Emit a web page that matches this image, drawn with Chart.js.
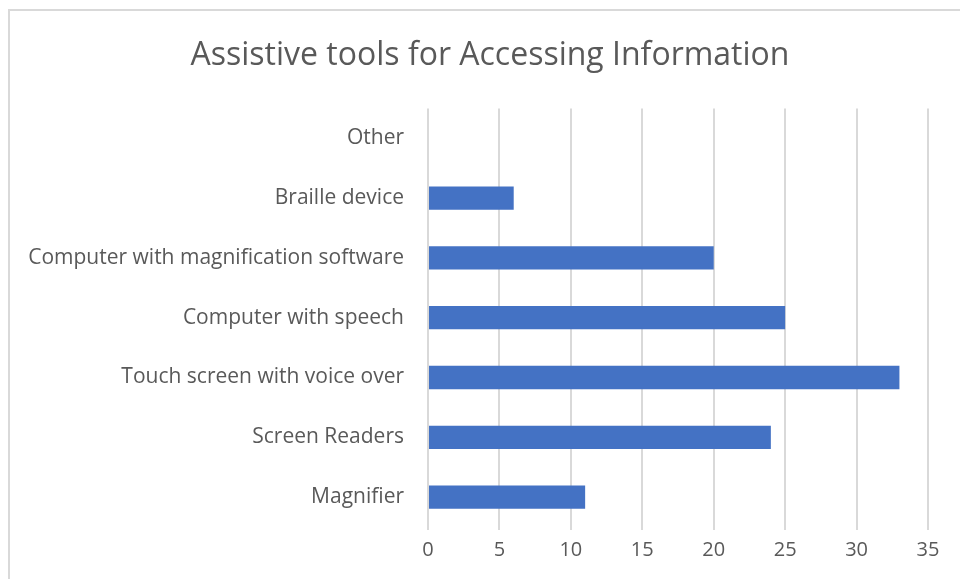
<!DOCTYPE html>
<html lang="en">
<head>
<meta charset="UTF-8" />
<title>Assistive tools for Accessing Information</title>
<script src="https://cdn.jsdelivr.net/npm/chart.js"></script>
<style>
body {
    margin: 0;
    background: #fff;
    overflow: hidden;
}
.frame {
    position: absolute;
    left: 8px;
    top: 9px;
    width: 1000px;
    height: 700px;
    border: 2px solid #d9d9d9;
}
.chart-box {
    position: absolute;
    left: 0;
    top: 0;
    width: 960px;
    height: 579px;
}
</style>
</head>
<body>
<div class="frame"></div>
<div class="chart-box">
    <canvas id="toolsChart"></canvas>
</div>

<script>
// data
const tools = ['Other', 'Braille device', 'Computer with magnification software',
    'Computer with speech', 'Touch screen with voice over', 'Screen Readers', 'Magnifier'];
const counts = [0, 6, 20, 25, 33, 24, 11];
const xTicks = [0, 5, 10, 15, 20, 25, 30, 35];

const textGrey = '#595959';
const fontName = '"Open Sans", sans-serif';

// the title in the original sits a bit right of the canvas centre
const nudgeTitle = {
    id: 'nudgeTitle',
    afterLayout(chart) {
        const t = chart.titleBlock;
        if (t) { t.left += 26; t.right += 26; }
    }
};

new Chart(document.getElementById('toolsChart'), {
    type: 'bar',
    data: {
        labels: tools,
        datasets: [{
            data: counts,
            backgroundColor: '#4472C4',
            barPercentage: 0.39,
            categoryPercentage: 1
        }]
    },
    options: {
        indexAxis: 'y',
        responsive: true,
        maintainAspectRatio: false,
        animation: false,
        layout: { padding: { left: 0, right: 32, top: 0, bottom: 0 } },
        plugins: {
            legend: { display: false },
            tooltip: { enabled: false },
            title: {
                display: true,
                text: 'Assistive tools for Accessing Information',
                color: textGrey,
                font: { family: fontName, size: 32, weight: 'normal' },
                padding: { top: 37, bottom: 33 }
            }
        },
        scales: {
            x: {
                min: xTicks[0],
                max: xTicks[xTicks.length - 1],
                afterBuildTicks: (scale) => { scale.ticks = xTicks.map(v => ({ value: v })); },
                afterFit: (scale) => { scale.height = 52; },
                border: { display: false },
                grid: { color: '#d9d9d9', lineWidth: 2, drawTicks: true, tickLength: 3, tickColor: '#d9d9d9' },
                ticks: {
                    color: textGrey,
                    padding: 8,
                    font: { family: fontName, size: 20 }
                }
            },
            y: {
                afterFit: (scale) => { scale.width = 428; },
                border: { display: false },
                grid: { display: false },
                ticks: {
                    color: textGrey,
                    padding: 16,
                    font: { family: fontName, size: 21 }
                }
            }
        }
    },
    plugins: [nudgeTitle]
});
</script>
</body>
</html>
